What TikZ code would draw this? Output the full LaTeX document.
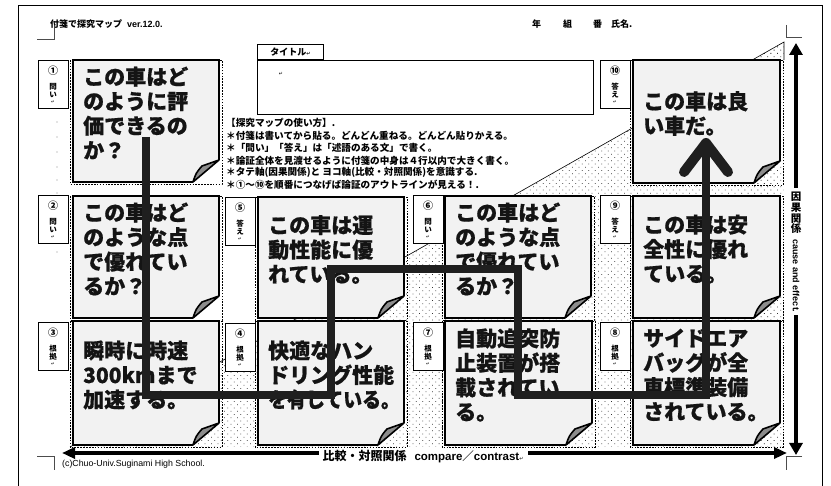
\documentclass[tikz,border=0pt]{standalone}
\usepackage{fontspec}
\usepackage{graphicx}
\usetikzlibrary{arrows.meta,patterns.meta}
\setmainfont{Liberation Sans}
\newfontfamily\jp{Noto Sans CJK JP}
\newfontfamily\jpheavy{Noto Sans CJK JP}[BoldFeatures={FakeBold=0.7}]
\newfontfamily\dv{DejaVu Sans}
\newcommand\retmark[1][5]{{\dv\fontsize{#1}{#1}\selectfont ↵}}
\tikzset{
  pageframe/.style={draw=black, line width=0.8pt},
  cropmark/.style={draw=black!70, line width=0.6pt},
  celldash/.style={draw=black, line width=0.9pt, dash pattern=on 1.6pt off 1.3pt},
  notebg/.style={fill=black!5},
  noteedge/.style={draw=black, line width=2.8pt, line join=miter},
  flap/.style={fill=black!45, draw=black, line width=1.6pt, line join=round},
  notetext/.style={font=\jpheavy\bfseries\fontsize{21}{24.5}\selectfont, align=left, anchor=west, inner sep=0pt, text=black!92},
  lbox/.style={draw=black, line width=0.8pt, fill=white, minimum width=30pt, minimum height=48pt, anchor=north west, inner sep=0pt},
  lbnum/.style={font=\jp\bfseries\fontsize{10}{10}\selectfont, inner sep=0pt},
  lbchar/.style={font=\jp\bfseries\fontsize{7.5}{7.5}\selectfont, inner sep=0pt},
  lbret/.style={font=\dv\fontsize{4.5}{4.5}\selectfont, inner sep=0pt},
  hdr/.style={font=\jp\bfseries\fontsize{9}{9}\selectfont, inner sep=0pt, anchor=west},
  instr/.style={font=\jp\bfseries\fontsize{9.6}{9.6}\selectfont, inner sep=0pt, anchor=west},
  flowline/.style={draw=black!88, line width=8.5pt, line join=miter},
  flowhead/.style={draw=black!88, line width=10pt, line cap=round, line join=round},
  axisline/.style={draw=black, line width=4pt},
  dotfill/.style={pattern={Dots[radius=0.55pt,distance=4.6pt,angle=45]}, pattern color=black!80},
}
% #1 name, #2 left, #3 top, #4 right, #5 bottom, #6 text
\newcommand\stickynote[6]{%
  \draw[celldash] (#2-3,#3) rectangle (#4+3,#5+2);
  \path[notebg] (#2,#3) -- (#4,#3) -- (#4,#5-22) -- (#4-26,#5) -- (#2,#5) -- cycle;
  \draw[noteedge] (#4-26,#5) -- (#2,#5) -- (#2,#3) -- (#4,#3) -- (#4,#5-22);
  \filldraw[flap] (#4-26,#5) .. controls (#4-23,#5-9) .. (#4-17,#5-16) .. controls (#4-9,#5-19) .. (#4,#5-22) -- cycle;
  \node[notetext] (#1) at (#2+10,{(#3+#5)/2-8}) {#6};
}
% #1 name, #2 left, #3 top, #4 number, #5 #6 chars
\newcommand\lblbox[6]{%
  \node[lbox] (#1) at (#2,#3) {};
  \node[lbnum] (#1a) at (#2+15,#3+11) {#4};
  \node[lbchar] (#1b) at (#2+15,#3+26.5) {#5};
  \node[lbchar] (#1c) at (#2+15,#3+35) {#6};
  \node[lbret] (#1d) at (#2+15,#3+42.5) {↵};
}
\begin{document}
\begin{tikzpicture}[x=1pt,y=-1pt]
\useasboundingbox (0,0) rectangle (831,486);
\fill[white] (0,0) rectangle (831,486);
\draw[pageframe] (18,495) -- (18,5) -- (822,5) -- (822,495);
\draw[cropmark] (37,39) -- (54,39) -- (54,21);
\draw[cropmark] (786,25) -- (786,37) -- (802,37);
\draw[cropmark] (37,456) -- (54,456) -- (54,470);
\draw[cropmark] (802,456) -- (786,456) -- (786,470);
% header
\node[hdr] (hd1) at (50,24) {付箋で探究マップ\hspace{5pt}{\rmfamily\bfseries ver.12.0.}};
\node[hdr] (hdy) at (532,24) {年};
\node[hdr] (hdk) at (563,24) {組};
\node[hdr] (hdb) at (593,24) {番};
\node[hdr] (hdn) at (611,24) {氏名.};
% dotted triangle
\fill[dotfill] (70,447) -- (784,42) -- (784,447) -- cycle;
\draw[line width=0.6pt] (70,447) -- (784,42) -- (784,60);
% tiny marks
\foreach \yy in {122,137,152,167,180,193,252} \fill[black!45] (57,\yy) circle (0.6);
% title
\node[draw, line width=0.9pt, minimum width=66pt, minimum height=15pt, anchor=south west, inner sep=0pt, font=\jp\bfseries\fontsize{9}{9}\selectfont] (tab) at (257,60) {タイトル\retmark};
\node[draw, line width=1pt, minimum width=336pt, minimum height=54pt, anchor=north west, inner sep=0pt] (titlebox) at (257,60) {};
\node[inner sep=0pt] (tret) at (281,74) {\retmark};
% instructions
\node[instr] (i1) at (226,123) {【探究マップの使い方】.};
\node[instr] (i2) at (226,135.5) {＊付箋は書いてから貼る。どんどん重ねる。どんどん貼りかえる。};
\node[instr] (i3) at (226,148) {＊「問い」「答え」は「述語のある文」で書く。};
\node[instr] (i4) at (226,160.5) {＊論証全体を見渡せるように付箋の中身は４行以内で大きく書く。};
\node[instr] (i5) at (226,172.5) {＊タテ軸(因果関係)と ヨコ軸(比較・対照関係)を意識する.};
\node[instr] (i6) at (226,185) {＊①〜⑩を順番につなげば論証のアウトラインが見える！.};
% notes
\stickynote{n1}{73}{60}{219}{182}{この車はど\\のように評\\価できるの\\か？}
\stickynote{n10}{633}{60}{780}{183}{この車は良\\い車だ。}
\stickynote{n2}{73}{196}{219}{318}{この車はど\\のような点\\で優れてい\\るか？}
\stickynote{n5}{258}{197}{404}{318}{この車は運\\動性能に優\\れている。}
\stickynote{n6}{445}{196}{591}{318}{この車はど\\のような点\\で優れてい\\るか？}
\stickynote{n9}{633}{196}{780}{318}{この車は安\\全性に優れ\\ている。}
\stickynote{n3}{73}{321}{219}{445}{瞬時に時速\\300kmまで\\加速する。}
\stickynote{n4}{258}{321}{404}{445}{快適なハン\\ドリング性能\\\scalebox{0.9}[1]{を有している。}}
\stickynote{n7}{445}{321}{592}{445}{自動追突防\\止装置が搭\\載されてい\\る。}
\stickynote{n8}{633}{321}{780}{445}{サイドエア\\バッグが全\\車標準装備\\されている。}
% label boxes
\lblbox{la}{38}{60}{①}{問}{い}
\lblbox{lb}{38}{195}{②}{問}{い}
\lblbox{lc}{38}{322}{③}{根}{拠}
\lblbox{le}{225}{197}{⑤}{答}{え}
\lblbox{ld}{225}{323}{④}{根}{拠}
\lblbox{lf}{413}{195}{⑥}{問}{い}
\lblbox{lg}{413}{322}{⑦}{根}{拠}
\lblbox{lj}{600}{60}{⑩}{答}{え}
\lblbox{li}{600}{195}{⑨}{答}{え}
\lblbox{lh}{600}{322}{⑧}{根}{拠}
% flow
\coordinate (f0) at (146,137);
\coordinate (f1) at (146,395);
\coordinate (f2) at (331,395);
\coordinate (f3) at (331,269);
\coordinate (f4) at (518,269);
\coordinate (f5) at (518,395);
\coordinate (f6) at (706,395);
\coordinate (f7) at (706,143);
\coordinate (fa) at (684,172);
\coordinate (fb) at (728,172);
\draw[flowline] (f0) -- (f1) -- (f2) -- (f3) -- (f4) -- (f5) -- (f6) -- (f7);
\draw[flowhead] (fa) -- (f7) -- (fb);
% axes
\coordinate (vt) at (796,43);
\coordinate (vb) at (796,455);
\draw[axisline, {Triangle[length=12pt,width=13pt]}-{Triangle[length=12pt,width=13pt]}] (vt) -- (vb);
\coordinate (hl) at (62,453);
\coordinate (hr) at (787,453);
\draw[axisline, {Triangle[length=13pt,width=11pt]}-{Triangle[length=13pt,width=11pt]}] (hl) -- (hr);
\fill[white] (791,188) rectangle (801,315);
\node[inner sep=0pt, align=center, font=\jp\bfseries\fontsize{10.5}{10.8}\selectfont] (vk) at (796,213) {因\\果\\関\\係};
\node[inner sep=0pt, rotate=-90, font=\rmfamily\bfseries\fontsize{9}{9}\selectfont] (ve) at (796,276) {cause and effect.};
\node[fill=white, inner xsep=4pt, inner ysep=1pt] (hlab) at (423,457) {{\jp\bfseries\fontsize{12}{12}\selectfont 比較・対照関係}\hspace{8pt}{\bfseries\fontsize{11.5}{12}\selectfont compare{\jp／}contrast}\retmark};
\node[anchor=west, inner sep=0pt, font=\rmfamily\fontsize{8.8}{9}\selectfont] (copy) at (62,464) {(c)Chuo-Univ.Suginami High School.};
\end{tikzpicture}
\end{document}
